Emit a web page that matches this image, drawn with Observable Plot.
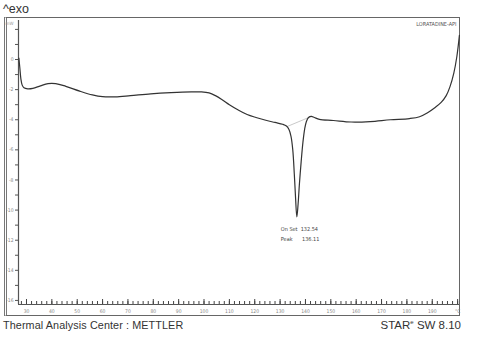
<!DOCTYPE html>
<html>
<head>
<meta charset="utf-8">
<script src="https://cdn.jsdelivr.net/npm/d3@7"></script>
<script src="https://cdn.jsdelivr.net/npm/@observablehq/plot@0.6"></script>
<style>
  html, body { margin: 0; padding: 0; background: #fff; }
  #wrap { position: relative; width: 477px; height: 339px; overflow: hidden; font-family: "Liberation Sans", Arial, sans-serif; }
  #frame { position: absolute; left: 4px; top: 17px; width: 456px; height: 299px; border: 1px solid #666; border-left: 3px double #777; box-sizing: border-box; }
  #chart { position: absolute; left: 0; top: 0; }
  .lbl { position: absolute; color: #333; white-space: nowrap; }
</style>
</head>
<body>
<div id="wrap">
  <div id="frame"></div>
  <div id="chart"></div>
  <div class="lbl" style="left:3px; top:2px; font-size:12.5px;">^exo</div>
  <div class="lbl" style="left:3px; top:319px; font-size:10.8px; letter-spacing:0.1px;">Thermal Analysis Center : METTLER</div>
  <div class="lbl" style="right:16px; top:319px; font-size:11.5px;">STAR<sup style="font-size:6px">e</sup> SW 8.10</div>
</div>
<script>
// Temperature (°C) and heat flow (mW)
const temps = [27.0, 27.4, 27.8, 28.3, 29.0, 30.5, 32.5, 35.5, 38.5, 41.5, 45.5, 51, 56, 60, 65, 71, 79, 87, 95, 99, 102, 104.5, 107, 110, 113.5, 117, 120.5, 124, 128, 131, 132.5, 133.5, 134.3, 135.0, 135.6, 136.1, 136.6, 137.1, 137.6, 138.3, 139.0, 139.7, 140.4, 141.2, 142.3, 143.5, 145.5, 151, 158, 165.5, 173.5, 181, 185, 188, 191, 193.5, 195.5, 197, 198.5, 199.7, 200.7];
const heatFlow = [0.1, -0.6, -1.3, -1.7, -1.88, -1.95, -1.92, -1.75, -1.6, -1.6, -1.78, -2.1, -2.35, -2.47, -2.48, -2.4, -2.28, -2.2, -2.15, -2.15, -2.22, -2.4, -2.65, -3.0, -3.35, -3.65, -3.85, -4.02, -4.18, -4.3, -4.42, -4.65, -5.1, -6.0, -7.6, -9.2, -10.45, -9.6, -8.3, -6.8, -5.5, -4.6, -4.1, -3.85, -3.78, -3.85, -3.98, -4.05, -4.15, -4.12, -4.0, -3.92, -3.8, -3.55, -3.2, -2.85, -2.4, -1.8, -0.9, 0.2, 1.6];

// Peak integration baseline
const baselineT = [132.8, 142.3];
const baselineV = [-4.45, -3.78];

// Annotations
const onsetValue = "132.54";
const peakValue = "136.11";
const peakT = 136.6;
const peakV = -10.45;
const sampleName = "LORATADINE-API";

// Axes
const xDomain = [26.85, 200.74];
const yDomain = [-16.27, 2.79];
const xTickValues = [30, 40, 50, 60, 70, 80, 90, 100, 110, 120, 130, 140, 150, 160, 170, 180, 190, 200];
const xMinorTicks = d3.range(28, 201, 2);
const yTickValues = [2, 1, 0, -1, -2, -3, -4, -5, -6, -7, -8, -9, -10, -11, -12, -13, -14, -15, -16];
const yUnit = "mW";
const yUnitAt = 2.4;
const xUnit = "°C";

const curve = temps.map((t, i) => ({t, v: heatFlow[i]}));
const base = baselineT.map((t, i) => ({t, v: baselineV[i]}));

const W = 477, H = 339, mL = 18, mR = 18, mT = 17, mB = 35;
const innerH = H - mT - mB;

const chart = Plot.plot({
  width: W, height: H,
  marginLeft: mL, marginRight: mR, marginTop: mT, marginBottom: mB,
  x: {domain: xDomain, label: null},
  y: {domain: yDomain, label: null},
  style: {background: "transparent", fontFamily: "'DejaVu Sans Condensed', 'Liberation Sans Narrow', sans-serif", color: "#555"},
  marks: [
    Plot.axisX({ticks: xTickValues, label: null, tickSize: 0, tickPadding: 5, fontSize: 5, fill: "#888", tickFormat: d => d === 200 ? xUnit : String(d)}),
    Plot.axisY({ticks: yTickValues, label: null, tickSize: 3, tickPadding: 2, fontSize: 5, fill: "#888", stroke: "#555", tickFormat: d => (d <= 0 && d % 2 === 0) ? String(d) : ""}),
    Plot.text([yUnit], {x: () => xDomain[0], y: () => yUnitAt, dx: -5, textAnchor: "end", fontSize: 4.5, fill: "#999"}),
    Plot.ruleX(xMinorTicks, {x: d => d, insetTop: innerH - 3, stroke: "#444", strokeWidth: 1}),
    Plot.ruleX(xTickValues, {x: d => d, insetTop: innerH - 5, insetBottom: -1, stroke: "#444", strokeWidth: 1}),
    Plot.ruleX([xDomain[0]], {insetTop: 3, stroke: "#555", strokeWidth: 1.2}),
    Plot.ruleY([yDomain[0]], {stroke: "#555", strokeWidth: 1.2}),
    Plot.line(base, {x: "t", y: "v", stroke: "#bbb", strokeWidth: 0.8}),
    Plot.line(curve, {x: "t", y: "v", stroke: "#333", strokeWidth: 1.2, curve: "catmull-rom"}),
    Plot.text([sampleName], {frameAnchor: "top-right", dx: -3, dy: 5, fontSize: 5.5, fill: "#555"}),
    Plot.text([`On Set  ${onsetValue}`], {x: () => peakT, y: () => peakV, textAnchor: "start", dx: -16, dy: 12, fontSize: 5.5, fill: "#444"}),
    Plot.text([`Peak      ${peakValue}`], {x: () => peakT, y: () => peakV, textAnchor: "start", dx: -16, dy: 22, fontSize: 5.5, fill: "#444"})
  ]
});
document.getElementById("chart").appendChild(chart);
</script>
</body>
</html>
